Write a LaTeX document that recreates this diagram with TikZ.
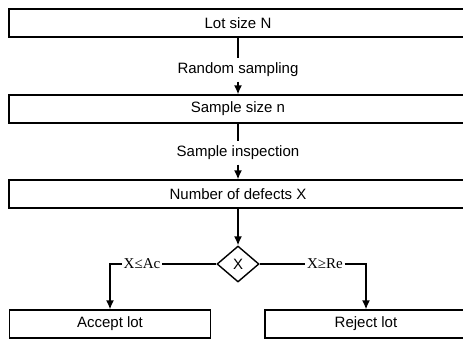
\documentclass[tikz,border=0pt]{standalone}
\usepackage{fontspec}
\setmainfont{Liberation Sans}
\newfontfamily\relfont{Liberation Serif}
\usetikzlibrary{shapes.geometric,arrows.meta}

\begin{document}
\begin{tikzpicture}[x=1pt,y=-1pt,font=\fontsize{15}{17}\selectfont,line width=1.4pt,
        >={Latex[length=9pt,width=8pt]}]
        \tikzstyle{every node}+=[inner sep=0pt]
        \tikzstyle{stagebox}=[draw, rectangle, minimum height=28pt]
        \tikzstyle{steplabel}=[inner ysep=4pt, inner xsep=2pt]
        \tikzstyle{decision}=[draw, diamond, minimum width=42pt, minimum height=36pt, aspect=1.17]
        \tikzstyle{rulelabel}=[font=\relfont\fontsize{15}{17}\selectfont, inner xsep=1pt]
        \useasboundingbox (0,0) rectangle (463,338);
        \clip (0,0) rectangle (463,338);
        \node [stagebox, minimum width=458pt] (lot) at (238,23) {Lot size N};
        \node [steplabel] (rand) at (238,70) {Random sampling};
        \node [stagebox, minimum width=458pt] (sample) at (238,109) {Sample size n};
        \node [steplabel] (insp) at (238,153) {Sample inspection};
        \node [stagebox, minimum width=458pt] (defects) at (238,194) {Number of defects X};
        \node [decision] (dec) at (238,264) {X};
        \node [rulelabel] (acclab) at (142,264) {X≤Ac};
        \node [rulelabel] (rejlab) at (325,264) {X≥Re};
        \node [stagebox, minimum width=201pt] (accept) at (110,324) {Accept lot};
        \node [stagebox, minimum width=202pt] (reject) at (366,324) {Reject lot};
        \draw (lot) -- (rand);
        \draw [->] (rand) -- (sample);
        \draw (sample) -- (insp);
        \draw [->] (insp) -- (defects);
        \draw [->] (defects) -- (dec);
        \draw (dec.west) -- (acclab);
        \draw [->] (acclab.west) -| (accept);
        \draw (dec.east) -- (rejlab);
        \draw [->] (rejlab.east) -| (reject);
\end{tikzpicture}
\end{document}
